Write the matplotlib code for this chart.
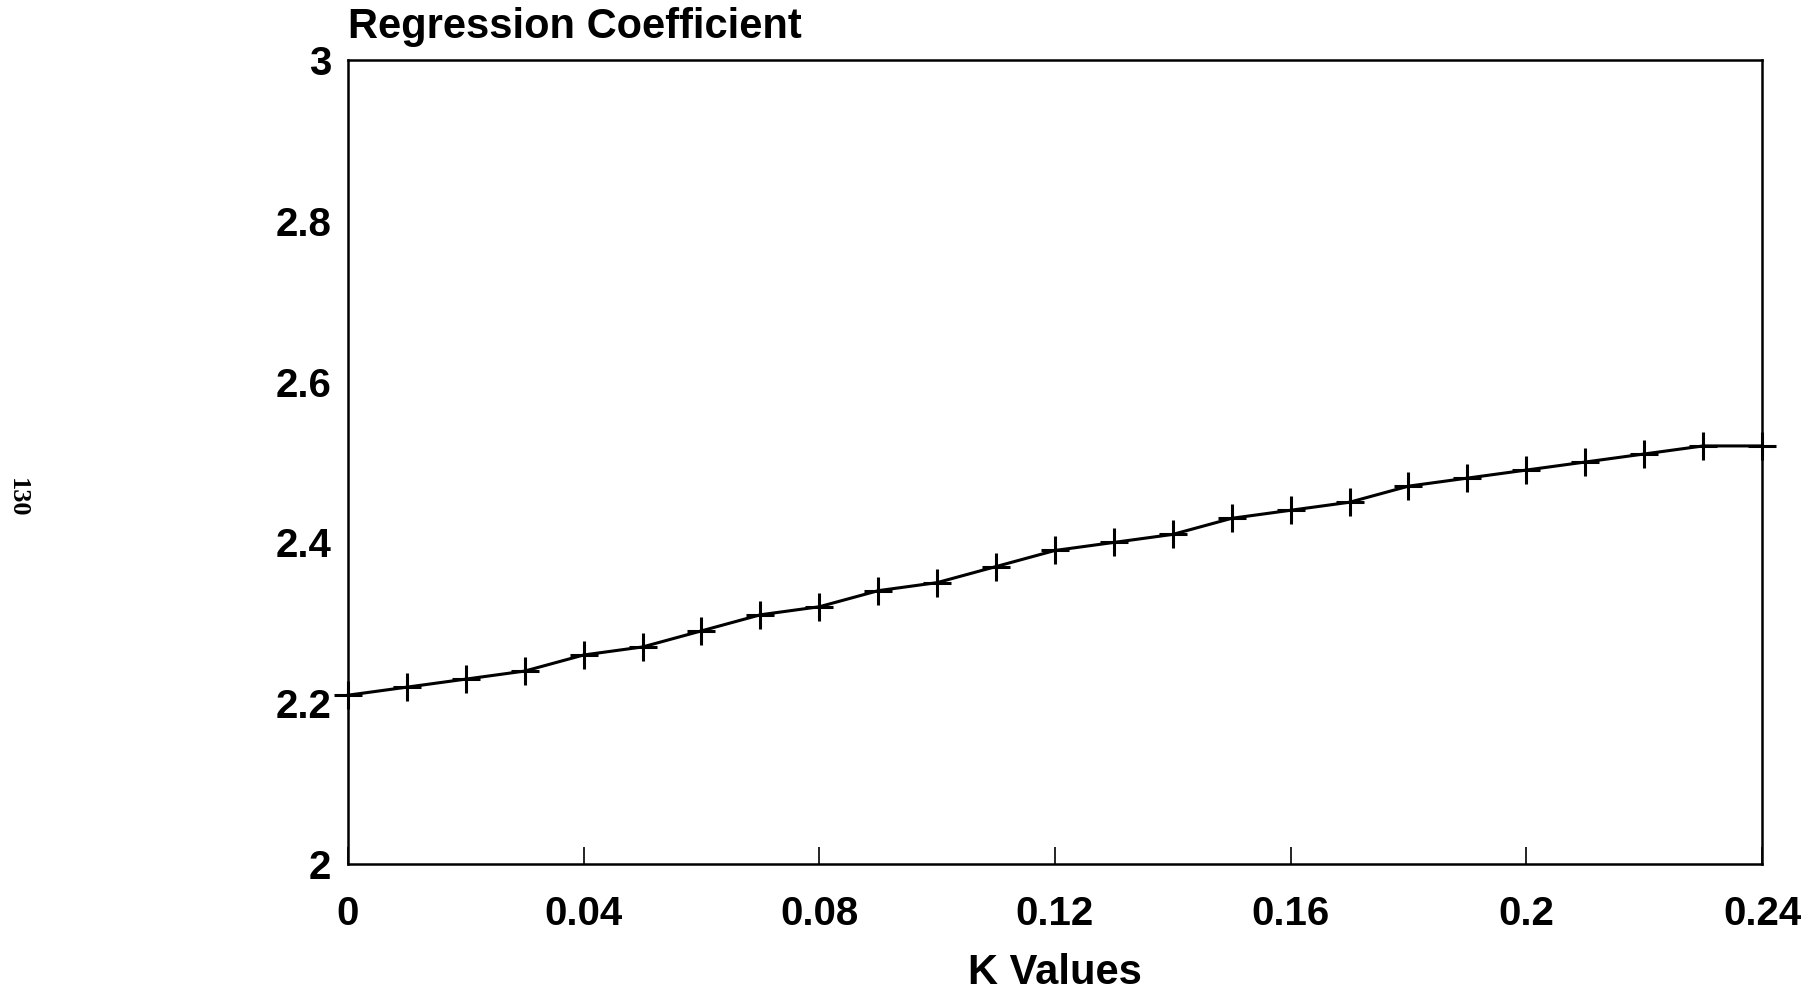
import matplotlib.pyplot as plt

k_values = [0.00, 0.01, 0.02, 0.03, 0.04, 0.05, 0.06, 0.07, 0.08, 0.09, 0.10, 0.11, 0.12,
            0.13, 0.14, 0.15, 0.16, 0.17, 0.18, 0.19, 0.20, 0.21, 0.22, 0.23, 0.24]
coef = [2.21, 2.22, 2.23, 2.24, 2.26, 2.27, 2.29, 2.31, 2.32, 2.34, 2.35, 2.37, 2.39,
        2.40, 2.41, 2.43, 2.44, 2.45, 2.47, 2.48, 2.49, 2.50, 2.51, 2.52, 2.52]

x_ticks = [0, 0.04, 0.08, 0.12, 0.16, 0.2, 0.24]
x_labels = ["0", "0.04", "0.08", "0.12", "0.16", "0.2", "0.24"]
y_ticks = [2, 2.2, 2.4, 2.6, 2.8, 3]
y_labels = ["2", "2.2", "2.4", "2.6", "2.8", "3"]

plt.rcParams["font.family"] = ["Liberation Sans", "DejaVu Sans"]

fig = plt.figure(figsize=(18.18, 9.92), dpi=100)
ax = fig.add_axes([0.1914, 0.129, 0.9692 - 0.1914, 0.9395 - 0.129])

ax.plot(k_values, coef, color="black", linewidth=2.2, marker="+", markersize=20,
        markeredgewidth=2.2, clip_on=False, zorder=3)

ax.set_xlim(0, 0.24)
ax.set_ylim(2, 3)
ax.set_xticks(x_ticks)
ax.set_xticklabels(x_labels, fontsize=29, fontweight="bold")
ax.set_yticks(y_ticks)
ax.set_yticklabels(y_labels, fontsize=29, fontweight="bold")
ax.tick_params(axis="x", direction="in", length=12, width=1.2, pad=22)
ax.tick_params(axis="y", direction="in", length=0, pad=12)
for spine in ax.spines.values():
    spine.set_linewidth(1.8)

ax.set_xlabel("K Values", fontsize=30, fontweight="bold", labelpad=15)
ax.set_title("Regression Coefficient", loc="left", fontsize=30, fontweight="bold", pad=16)

fig.text(17 / 1818, 1 - 498 / 992, "130", rotation=-90, ha="center", va="center",
         fontsize=19, fontweight="bold", family="Liberation Serif")

fig.savefig("out.png", dpi=100)
